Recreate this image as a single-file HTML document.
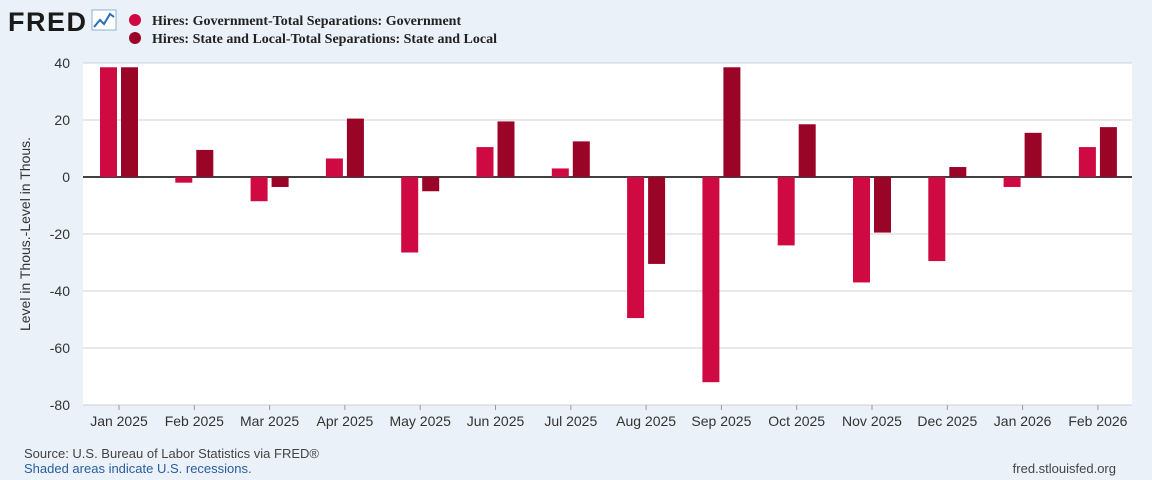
<!DOCTYPE html>
<html><head><meta charset="utf-8"><style>
body{margin:0;width:1152px;height:480px;background:#eaf1f8;font-family:"Liberation Sans",sans-serif;overflow:hidden}
svg{display:block}
</style></head><body>
<svg id="c" width="1152" height="480">
<text x="8" y="31" font-size="27" font-weight="bold" fill="#1a1a1a" font-family="Liberation Sans" textLength="78">FRED</text>
<g><rect x="92" y="10" width="24" height="20" fill="#fff" stroke="#8fb0d0"/><polyline points="94,27 100,20 104,24 110,14 114,17" fill="none" stroke="#2a6fb5" stroke-width="2"/></g>
<circle cx="135" cy="20" r="6" fill="#cf0a43"/>
<text x="152" y="25" font-size="14" font-weight="bold" font-family="Liberation Serif" fill="#222">Hires: Government-Total Separations: Government</text>
<circle cx="135" cy="38" r="6" fill="#9a0427"/>
<text x="152" y="43" font-size="14" font-weight="bold" font-family="Liberation Serif" fill="#222">Hires: State and Local-Total Separations: State and Local</text>
<rect x="83" y="63" width="1049" height="342" fill="#fff"/>
<g id="grid"></g><g id="bars"></g><g id="axes"></g>
<text transform="translate(30,234) rotate(-90)" text-anchor="middle" font-size="14" fill="#333">Level in Thous.-Level in Thous.</text>
<text x="24" y="458" font-size="13" fill="#444">Source: U.S. Bureau of Labor Statistics via FRED®</text>
<text x="24" y="473" font-size="13" fill="#2a5d9f">Shaded areas indicate U.S. recessions.</text>
<text x="1116" y="473" font-size="13" fill="#444" text-anchor="end">fred.stlouisfed.org</text>
</svg>
<script>
const categories=["Jan 2025","Feb 2025","Mar 2025","Apr 2025","May 2025","Jun 2025","Jul 2025","Aug 2025","Sep 2025","Oct 2025","Nov 2025","Dec 2025","Jan 2026","Feb 2026"];
const govValues=[38.5,-2,-8.5,6.5,-26.5,10.5,3,-49.5,-72,-24,-37,-29.5,-3.5,10.5];
const stateValues=[38.5,9.5,-3.5,20.5,-5,19.5,12.5,-30.5,38.5,18.5,-19.5,3.5,15.5,17.5];
const yTicks=[40,20,0,-20,-40,-60,-80];
const NS="http://www.w3.org/2000/svg";
const y=v=>177-v*2.85;
const xc=i=>119+i*75.3;
function mk(t,a,p){const e=document.createElementNS(NS,t);for(const k in a)e.setAttribute(k,a[k]);p.appendChild(e);return e;}
const grid=document.getElementById('grid'),bars=document.getElementById('bars'),axes=document.getElementById('axes');
yTicks.forEach(v=>{
 const l=mk('line',{x1:83,x2:1132,y1:y(v),y2:y(v),stroke:v===0?'#000':'#d0d0d0','stroke-width':v===0?1.5:1},grid);
 
 
 const t=mk('text',{x:70,y:y(v)+5,'text-anchor':'end','font-size':14,fill:'#333'},axes);
 t.textContent=v;
 
 
});
categories.forEach((c,i)=>{
 const g=govValues[i],s=stateValues[i];
 const b1=mk('rect',{x:xc(i)-19,width:17,y:Math.min(y(g),y(0)),height:Math.abs(y(g)-y(0)),fill:'#cf0a43'},bars);
 
 
 const b2=mk('rect',{x:xc(i)+2,width:17,y:Math.min(y(s),y(0)),height:Math.abs(y(s)-y(0)),fill:'#9a0427'},bars);
 
 
 const tk=mk('line',{x1:xc(i),x2:xc(i),y1:405,y2:410,stroke:'#999'},axes);
 
 
 const t=mk('text',{x:xc(i),y:426,'text-anchor':'middle','font-size':14,fill:'#333'},axes);
 t.textContent=c;
 
 
});
</script>
</body></html>
